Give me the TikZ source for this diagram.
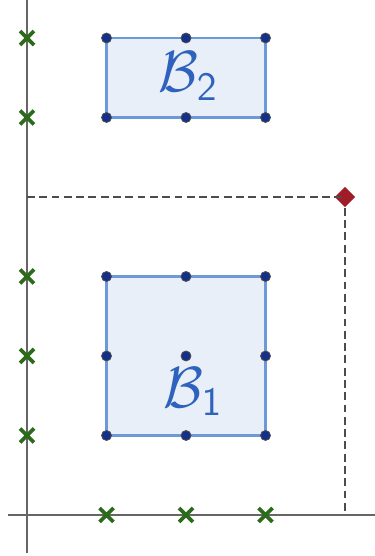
\documentclass[tikz,border=0pt]{standalone}
\usepackage{amssymb,amsfonts}
\usepackage{tikz}
\usepackage{xcolor}
\usetikzlibrary{shapes.misc,shapes.geometric}

\definecolor{boxfill}{HTML}{E8EFF8}
\definecolor{boxline}{HTML}{6C9AD8}
\definecolor{dotcol}{HTML}{14308A}
\definecolor{crosscol}{HTML}{2C6A1C}
\definecolor{redpt}{HTML}{A11C26}
\definecolor{labcol}{HTML}{2E62BC}

\tikzset{
  pt/.style={circle,fill=dotcol,draw=black!70,line width=0.3pt,inner sep=0pt,minimum size=0.125cm},
  cross/.style={cross out,draw=crosscol,line width=1.3pt,inner sep=0pt,minimum size=0.13cm},
  region/.style={fill=boxfill,draw=boxline,line width=0.9pt},
  guide/.style={dash pattern=on 2.8pt off 1.6pt,draw=black!70,line width=0.7pt}
}

\begin{document}
\begin{tikzpicture}
            \useasboundingbox (-0.34,-0.516) rectangle (4.377,6.478);

            % Draw axes
            \coordinate (ybot) at (0,-0.48);
            \coordinate (ytop) at (0,6.478);
            \coordinate (xleft) at (-0.24,0);
            \coordinate (xright) at (4.377,0);
            \draw[black!60,line width=0.5pt] (ybot) -- (ytop);
            \draw[black!60,line width=0.5pt] (xleft) -- (xright);

            % Draw grid points
            \foreach \i in {1,2,3} {
              \foreach \j in {1,2,3} {
                \coordinate (a\i\j) at (\i,\j);
              }
              \foreach \j in {5,6} {
                \coordinate (b\i\j) at (\i,\j);
              }
            }

            % Draw boxes
            \draw[region] (a11) rectangle (a33);
            \draw[region] (b15) rectangle (b36);

            % Draw dots
            \foreach \i in {1,2,3} {
              \foreach \j in {1,2,3} {
                \node[pt] (p\i\j) at (a\i\j) {};
              }
              \foreach \j in {5,6} {
                \node[pt] (q\i\j) at (b\i\j) {};
              }
            }

            % Draw labels
            \node[text=labcol,font=\fontsize{20}{24}\selectfont] (lb1) at (2.09,1.55) {$\mathcal{B}_{\mathsf{1}}$};
            \node[text=labcol,font=\fontsize{20}{24}\selectfont] (lb2) at (2.03,5.52) {$\mathcal{B}_{\mathsf{2}}$};

            % Draw crosses on the axes
            \foreach \j in {1,2,3,5,6} {
              \node[cross] (cy\j) at (0,\j) {};
            }
            \foreach \i in {1,2,3} {
              \node[cross] (cx\i) at (\i,0) {};
            }

            % Draw corner point with dashed lines
            \coordinate (yfour) at (0,4);
            \coordinate (xfour) at (4,0);
            \node[diamond,fill=redpt,inner sep=0pt,minimum size=0.26cm] (top) at (4,4) {};
            \draw[guide] (yfour) -- (top.center);
            \draw[guide] (top) -- (xfour);
          \end{tikzpicture}
\end{document}
